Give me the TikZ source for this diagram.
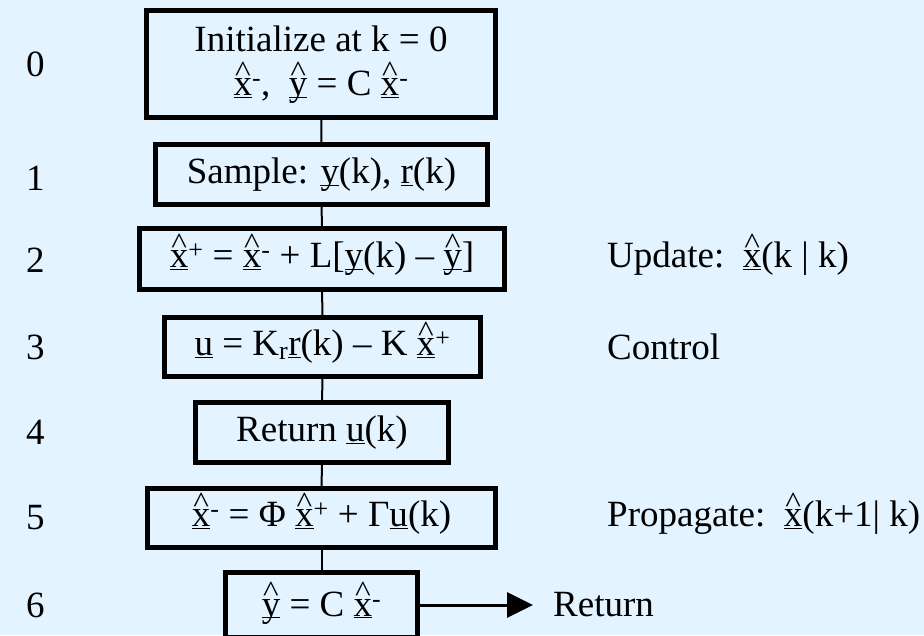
\documentclass[tikz,border=0pt]{standalone}
\usepackage{fontspec}
\setmainfont{Liberation Serif}
\usepackage{tikz}
\usetikzlibrary{arrows.meta}
\definecolor{fundoAzul}{RGB}{227,243,255}

% vector with hat, underlined
\newcommand{\ulv}[1]{\underline{\smash{#1}}}
\newcommand{\vhat}[1]{\ulv{\ooalign{#1\cr\hidewidth\raisebox{0.4em}{\scalebox{0.9}[0.8]{\textasciicircum}}\hidewidth\cr}}}
\newcommand{\xhat}{\vhat{x}}
\newcommand{\yhat}{\vhat{y}}

\begin{document}
\begin{tikzpicture}[
    x=1pt, y=1pt,
    font=\fontsize{37}{44}\selectfont,
    stepbox/.style={draw=black, line width=5pt, inner sep=0pt, align=center},
    lbl/.style={inner sep=0pt, anchor=west},
    link/.style={line width=2pt, draw=black},
    arrow/.style={line width=3pt, -{Triangle[length=26pt, width=25pt]}, draw=black}
]
    \useasboundingbox (0,0) rectangle (924,-635);
    \fill[fundoAzul] (0,0) rectangle (924,-635);

    % steps of the loop
    \node[stepbox, minimum width=349pt, minimum height=107pt] (s0) at (321,-64)
        {Initialize at k = 0\\\xhat\textsuperscript{-},\ \ \yhat\ = C \xhat\textsuperscript{-}};
    \node[stepbox, minimum width=332pt, minimum height=60pt] (s1) at (321.5,-174.5)
        {Sample: \ulv{y}(k), \ulv{r}(k)};
    \node[stepbox, minimum width=365pt, minimum height=61pt] (s2) at (322,-259)
        {\xhat\textsuperscript{+} = \xhat\textsuperscript{-} + L[\ulv{y}(k) -- \yhat]};
    \node[stepbox, minimum width=316pt, minimum height=59pt] (s3) at (322.5,-347)
        {\ulv{u} = K\textsubscript{r}\ulv{r}(k) -- K \xhat\textsuperscript{+}};
    \node[stepbox, minimum width=253pt, minimum height=60pt] (s4) at (322,-432.5)
        {Return \ulv{u}(k)};
    \node[stepbox, minimum width=348pt, minimum height=59pt] (s5) at (321.5,-518)
        {\xhat\textsuperscript{-} = Φ \xhat\textsuperscript{+} + Γ\ulv{u}(k)};
    \node[stepbox, minimum width=192pt, minimum height=65pt] (s6) at (321.5,-605)
        {\yhat\ = C \xhat\textsuperscript{-}};

    % step numbers
    \node[lbl] (n0) at (26,-64) {0};
    \node[lbl] (n1) at (26,-178) {1};
    \node[lbl] (n2) at (26,-260) {2};
    \node[lbl] (n3) at (26,-347) {3};
    \node[lbl] (n4) at (26,-432) {4};
    \node[lbl] (n5) at (26,-518) {5};
    \node[lbl] (n6) at (26,-605) {6};

    % notes on the right
    \node[lbl] (upd) at (607,-259) {Update:\ \ \xhat(k | k)};
    \node[lbl] (ctl) at (607,-347) {Control};
    \node[lbl] (prp) at (607,-518) {Propagate:\ \ \xhat(k+1| k)};
    \node[lbl] (ret) at (553,-605) {Return};

    \foreach \a/\b in {s0/s1, s1/s2, s2/s3, s3/s4, s4/s5, s5/s6}
        \draw[link] (\a) -- (\b);
    \draw[arrow, shorten >=20pt] (s6.east) -- (ret.west);
\end{tikzpicture}
\end{document}
